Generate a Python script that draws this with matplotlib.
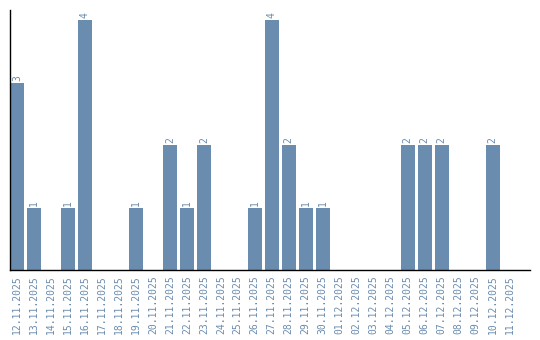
import matplotlib
matplotlib.use("Agg")
import matplotlib.pyplot as plt

dates = ["12.11.2025", "13.11.2025", "14.11.2025", "15.11.2025", "16.11.2025",
         "17.11.2025", "18.11.2025", "19.11.2025", "20.11.2025", "21.11.2025",
         "22.11.2025", "23.11.2025", "24.11.2025", "25.11.2025", "26.11.2025",
         "27.11.2025", "28.11.2025", "29.11.2025", "30.11.2025", "01.12.2025",
         "02.12.2025", "03.12.2025", "04.12.2025", "05.12.2025", "06.12.2025",
         "07.12.2025", "08.12.2025", "09.12.2025", "10.12.2025", "11.12.2025"]
counts = [3, 1, 0, 1, 4, 0, 0, 1, 0, 2,
          1, 2, 0, 0, 1, 4, 2, 1, 1, 0,
          0, 0, 0, 2, 2, 2, 0, 0, 2, 0]

col = "#6a8caf"

fig = plt.figure(figsize=(5.4, 3.4), dpi=100)
ax = fig.add_axes([10/540, 70/340, 520/540, 260/340])

x = list(range(len(dates)))
ax.bar(x, counts, width=0.82, color=col)

for i, v in enumerate(counts):
    if v > 0:
        ax.text(i, v + 0.03, str(v), rotation=90, ha="center", va="bottom",
                color=col, fontsize=7, family="DejaVu Sans Mono")

ax.set_xlim(-0.41, 30.2)
ax.set_ylim(0, 4.16)
ax.set_xticks(x)
ax.set_xticklabels(dates, rotation=90, color=col, fontsize=7, family="DejaVu Sans Mono")
ax.set_yticks([])
ax.tick_params(axis="x", length=0, pad=4)
for s in ["top", "right"]:
    ax.spines[s].set_visible(False)
ax.spines["left"].set_linewidth(1)
ax.spines["bottom"].set_linewidth(1)

fig.savefig("out.png", dpi=100)
